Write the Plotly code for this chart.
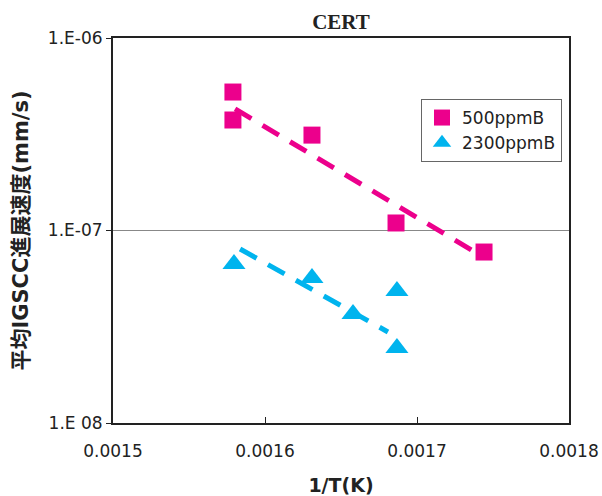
import plotly.graph_objects as go

# ---- data ----
x_500 = [0.0015789, 0.0015789, 0.0016309, 0.0016862, 0.0017441]
y_500 = [5.24e-7, 3.75e-7, 3.13e-7, 1.094e-7, 7.73e-8]
x_2300 = [0.0015796, 0.0016309, 0.0016579, 0.0016868, 0.0016868]
y_2300 = [6.7e-8, 5.66e-8, 3.68e-8, 4.85e-8, 2.45e-8]
# trend lines (endpoints as read)
trend_500_x = [0.0015803, 0.0017414]
trend_500_y = [4.28e-7, 7.46e-8]
trend_2300_x = [0.0015836, 0.0016809]
trend_2300_y = [8.02e-8, 2.97e-8]

x_ticks = [0.0015, 0.0016, 0.0017, 0.0018]
x_ticktext = ["0.0015", "0.0016", "0.0017", "0.0018"]
y_ticks = [1e-6, 1e-7, 1e-8]
y_ticktext = ["1.E-06", "1.E-07", "1.E 08"]

PINK = "#EC008C"
CYAN = "#00B4EE"
SANS = "DejaVu Sans, Noto Sans CJK JP"

fig = go.Figure()
fig.add_trace(go.Scatter(x=trend_500_x, y=trend_500_y, mode="lines",
                         line=dict(color=PINK, width=5, dash="19px,13px"),
                         showlegend=False, hoverinfo="skip"))
fig.add_trace(go.Scatter(x=trend_2300_x, y=trend_2300_y, mode="lines",
                         line=dict(color=CYAN, width=5, dash="19px,13px"),
                         showlegend=False, hoverinfo="skip"))
fig.add_trace(go.Scatter(x=x_500, y=y_500, mode="markers", name="500ppmB",
                         marker=dict(symbol="square", size=17, color=PINK)))
fig.add_trace(go.Scatter(x=x_2300, y=y_2300, mode="markers", name="2300ppmB",
                         marker=dict(symbol="triangle-up", size=20, color=CYAN)))

tickfont = dict(family=SANS, size=17, color="#222")

fig.update_layout(
    width=602, height=496,
    margin=dict(l=113, r=33, t=38, b=73),
    paper_bgcolor="white", plot_bgcolor="white",
    title=dict(text="<b>CERT</b>", x=341/602, xanchor="center", y=1-22/496, yanchor="middle",
               font=dict(family="Liberation Serif, Times New Roman", size=21, color="#222")),
    xaxis=dict(range=[0.0015, 0.0018], tickvals=x_ticks, ticktext=x_ticktext,
               ticks="inside", ticklen=6, tickcolor="#222", tickwidth=1,
               showline=True, linecolor="#222", linewidth=2, mirror=True,
               showgrid=False, zeroline=False, tickfont=tickfont,
               ticklabelstandoff=12, automargin=False,
               title=dict(text="<b>1/T(K)</b>", standoff=18,
                          font=dict(family=SANS, size=19, color="#222"))),
    yaxis=dict(type="log", range=[-8, -6], tickvals=y_ticks, ticktext=y_ticktext,
               ticks="outside", ticklen=5, tickcolor="#222", tickwidth=1,
               showline=True, linecolor="#222", linewidth=2, mirror=True,
               showgrid=True, gridcolor="#888", gridwidth=1, zeroline=False,
               tickfont=tickfont, automargin=False,
               title=dict(text="<b>平均IGSCC進展速度(mm/s)</b>", standoff=14,
                          font=dict(family=SANS, size=21, color="#222"))),
    legend=dict(x=(421-113)/456, y=(423-99)/385, xanchor="left", yanchor="top",
                bordercolor="#666", borderwidth=1, bgcolor="white",
                font=dict(family=SANS, size=17, color="#222"),
                tracegroupgap=4),
    showlegend=True,
)

fig.write_html("out.html")
